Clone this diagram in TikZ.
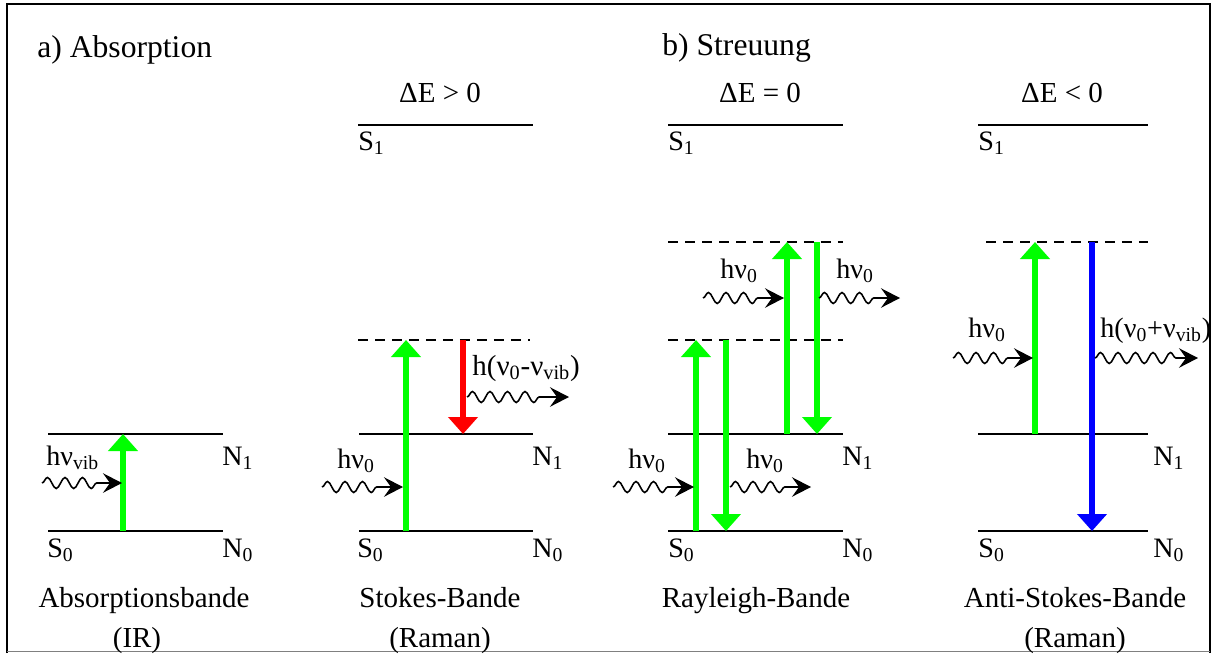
\documentclass[tikz,border=0pt]{standalone}
\usepackage{fontspec}
\setmainfont{Liberation Serif}
\usetikzlibrary{arrows.meta,positioning,calc,decorations.pathmorphing}
\definecolor{irgreen}{RGB}{0,255,0}
\definecolor{stokesred}{RGB}{255,0,0}
\definecolor{antiblue}{RGB}{0,0,255}
\newcommand{\sub}[1]{\textsubscript{#1}}
\tikzset{
  level/.style={draw=black,line width=1.1pt},
  virt/.style={level,dash pattern=on 2mm off 1.4mm},
  trans/.style={line width=3.4pt,-{Triangle[length=3.4mm,width=5.8mm]}},
  photon/.style={draw=black,line width=0.9pt,decorate,decoration={snake,amplitude=1.1mm,segment length=3.5mm,post length=4.4mm},-{Stealth[length=3.8mm,width=3.9mm,inset=1.4mm]}},
  lbl/.style={inner sep=0pt,anchor=base west},
  bandtxt/.style={inner sep=0pt,anchor=base,font=\fontsize{16.5}{19}\selectfont},
  titletxt/.style={lbl,font=\fontsize{18}{21}\selectfont}
}
\begin{document}
\begin{tikzpicture}[x=0.02cm,y=-0.02cm,font=\fontsize{16}{19}\selectfont]
  \useasboundingbox (0,0) rectangle (1212,653);
  \draw[line width=1.1pt] (7,653) -- (7,4) -- (1210,4) -- (1210,653);
  \draw[gray,line width=0.5pt] (7,651) -- (1210,651);

  % a) Absorption
  \node[titletxt] (tita) at (37,57) {a) Absorption};
  \draw[level] (48,434) coordinate (n1a) -- (223,434);
  \draw[level] (48,531) coordinate (s0a) -- (223,531);
  \coordinate (upa) at (123,434); \coordinate (loa) at (123,531);
  \draw[trans,irgreen] (loa) -- (upa);
  \coordinate (wina) at (42,483); \coordinate (wouta) at (122,483);
  \draw[photon] (wina) -- (wouta);
  \node[lbl] (hva) at (46,465) {hν\sub{vib}};
  \node[lbl] (n1la) at (222,465) {N\sub{1}};
  \node[lbl] (s0la) at (47,557) {S\sub{0}};
  \node[lbl] (n0la) at (222,557) {N\sub{0}};
  \node[bandtxt] (banda) at (144,607) {Absorptionsbande};
  \node[bandtxt] (bandai) at (137,647) {(IR)};

  % Stokes
  \node[bandtxt] (dEb) at (440,102) {ΔE > 0};
  \draw[level] (358,125) -- (533,125);
  \draw[virt] (358,340) -- (530,340);
  \draw[level] (359,434) -- (533,434);
  \draw[level] (359,531) -- (533,531);
  \coordinate (lob) at (406,531); \coordinate (vb) at (406,340);
  \coordinate (rtop) at (463,340); \coordinate (rbot) at (463,434);
  \draw[trans,irgreen] (lob) -- (vb);
  \draw[trans,stokesred] (rtop) -- (rbot);
  \coordinate (winb) at (322,487); \coordinate (wendb) at (403,487);
  \coordinate (woutb) at (467,397); \coordinate (wfarb) at (569,397);
  \draw[photon] (winb) -- (wendb);
  \draw[photon] (woutb) -- (wfarb);
  \node[lbl] (s1lb) at (358,150) {S\sub{1}};
  \node[lbl] (hvb) at (337,468) {hν\sub{0}};
  \node[lbl,font=\fontsize{16.5}{19}\selectfont] (hstb) at (472,375) {h(ν\sub{0}-ν\sub{vib})};
  \node[lbl] (n1lb) at (532,465) {N\sub{1}};
  \node[lbl] (s0lb) at (357,557) {S\sub{0}};
  \node[lbl] (n0lb) at (532,557) {N\sub{0}};
  \node[bandtxt] (bandb) at (440,607) {Stokes-Bande};
  \node[bandtxt] (bandbi) at (440,647) {(Raman)};

  % b) Streuung, Rayleigh
  \node[titletxt] (titb) at (662,55) {b) Streuung};
  \node[bandtxt] (dEc) at (760,102) {ΔE = 0};
  \draw[level] (668,125) -- (843,125);
  \draw[virt] (668,242) -- (843,242);
  \draw[virt] (668,340) -- (843,340);
  \draw[level] (668,434) -- (843,434);
  \draw[level] (668,531) -- (843,531);
  \coordinate (c1b) at (696,531); \coordinate (c1t) at (696,340);
  \coordinate (c2t) at (726,340); \coordinate (c2b) at (726,531);
  \coordinate (c3b) at (787,434); \coordinate (c3t) at (787,242);
  \coordinate (c4t) at (817,242); \coordinate (c4b) at (817,434);
  \draw[trans,irgreen] (c1b) -- (c1t);
  \draw[trans,irgreen] (c2t) -- (c2b);
  \draw[trans,irgreen] (c3b) -- (c3t);
  \draw[trans,irgreen] (c4t) -- (c4b);
  \coordinate (w1a) at (613,487); \coordinate (w1b) at (694,487);
  \coordinate (w2a) at (730,487); \coordinate (w2b) at (811,487);
  \coordinate (w3a) at (703,298); \coordinate (w3b) at (784,298);
  \coordinate (w4a) at (819,298); \coordinate (w4b) at (900,298);
  \draw[photon] (w1a) -- (w1b);
  \draw[photon] (w2a) -- (w2b);
  \draw[photon] (w3a) -- (w3b);
  \draw[photon] (w4a) -- (w4b);
  \node[lbl] (s1lc) at (668,150) {S\sub{1}};
  \node[lbl] (hvc1) at (628,468) {hν\sub{0}};
  \node[lbl] (hvc2) at (746,468) {hν\sub{0}};
  \node[lbl] (hvc3) at (720,278) {hν\sub{0}};
  \node[lbl] (hvc4) at (836,278) {hν\sub{0}};
  \node[lbl] (n1lc) at (842,465) {N\sub{1}};
  \node[lbl] (s0lc) at (668,557) {S\sub{0}};
  \node[lbl] (n0lc) at (842,557) {N\sub{0}};
  \node[bandtxt] (bandc) at (756,607) {Rayleigh-Bande};

  % Anti-Stokes
  \node[bandtxt] (dEd) at (1062,102) {ΔE < 0};
  \draw[level] (978,125) -- (1148,125);
  \draw[virt] (986,242) -- (1148,242);
  \draw[level] (978,434) -- (1148,434);
  \draw[level] (978,531) -- (1148,531);
  \coordinate (d1b) at (1035,434); \coordinate (d1t) at (1035,242);
  \coordinate (d2t) at (1092,242); \coordinate (d2b) at (1092,531);
  \draw[trans,irgreen] (d1b) -- (d1t);
  \draw[trans,antiblue] (d2t) -- (d2b);
  \coordinate (wind) at (953,358); \coordinate (wendd) at (1033,358);
  \coordinate (woutd) at (1095,358); \coordinate (wfard) at (1198,358);
  \draw[photon] (wind) -- (wendd);
  \draw[photon] (woutd) -- (wfard);
  \node[lbl] (s1ld) at (978,150) {S\sub{1}};
  \node[lbl] (hvd) at (968,337) {hν\sub{0}};
  \node[lbl] (hasd) at (1100,337) {h(ν\sub{0}+ν\sub{vib})};
  \node[lbl] (n1ld) at (1153,465) {N\sub{1}};
  \node[lbl] (s0ld) at (978,557) {S\sub{0}};
  \node[lbl] (n0ld) at (1153,557) {N\sub{0}};
  \node[bandtxt] (bandd) at (1075,607) {Anti-Stokes-Bande};
  \node[bandtxt] (banddi) at (1075,647) {(Raman)};
\end{tikzpicture}
\end{document}
